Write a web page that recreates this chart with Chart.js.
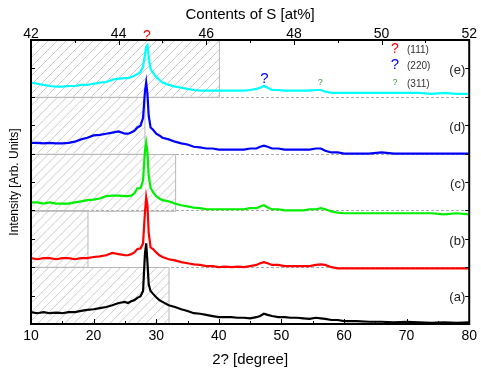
<!DOCTYPE html>
<html>
<head>
<meta charset="utf-8">
<script src="https://cdn.jsdelivr.net/npm/chart.js@4.4.0/dist/chart.umd.min.js"></script>
<style>
html, body { margin: 0; padding: 0; background: #fff; }
</style>
</head>
<body>
<canvas id="xrdChart" width="481" height="369"></canvas>
<script>
// 2-theta positions (degree)
const twoTheta = [10, 11, 12, 13, 14, 15, 16, 17, 18, 19, 20, 21, 22, 23, 24, 25, 25.5, 26, 26.5, 27,
  27.5, 27.9, 28.2, 28.4, 28.6, 28.8, 29.1, 29.5, 30, 30.5, 31, 32, 33, 34, 35, 36, 37, 38, 39, 40,
  41, 42, 43, 44, 45, 46, 46.6, 47.2, 47.8, 48.5, 49.5, 50.5, 51.5, 52.5, 53.5, 54.5, 55.5, 56.3, 57, 58,
  59, 60, 62, 64, 66, 68, 70, 72, 74, 76, 78, 80];

// intensities (arb. units, each pattern above its own baseline)
const sampleA = [21, 19, 21, 19, 20, 19, 21, 21, 23, 25, 26, 28, 30, 33, 37, 39, 37, 40, 42, 46,
  49, 58, 123, 142, 109, 70, 58, 53, 47, 42, 39, 33, 30, 26, 23, 19, 18, 16, 14, 12,
  12, 12, 11, 11, 10, 12, 14, 18, 16, 14, 12, 12, 11, 11, 10, 9, 11, 10, 9, 7,
  7, 5, 5, 4, 4, 3, 4, 3, 2, 3, 2, 3];
const sampleB = [16, 14, 16, 16, 14, 16, 16, 14, 16, 16, 18, 19, 21, 25, 23, 21, 21, 23, 26, 32,
  33, 42, 96, 123, 109, 61, 35, 32, 26, 21, 18, 14, 12, 9, 7, 5, 4, 2, 2, 0,
  1, 0, 1, 0, 2, 4, 7, 9, 7, 4, 4, 2, 2, 2, 2, 2, 4, 5, 4, 0,
  -2, -2, -2, -2, -2, -2, -2, -2, -2, -2, -2, -2];
const sampleC = [14, 14, 12, 14, 12, 12, 12, 14, 16, 18, 19, 21, 25, 26, 26, 25, 25, 26, 30, 39,
  39, 53, 105, 119, 102, 61, 40, 32, 25, 21, 18, 16, 12, 9, 7, 5, 4, 2, 2, 2,
  2, 2, 2, 2, 4, 4, 7, 9, 5, 2, 2, 0, 0, 0, 0, 2, 2, 4, 2, -2,
  -4, -5, -5, -5, -5, -5, -5, -5, -5, -7, -5, -7];
const sampleD = [19, 19, 18, 19, 18, 18, 19, 21, 25, 28, 32, 33, 35, 37, 39, 35, 35, 37, 40, 46,
  49, 63, 109, 125, 105, 67, 46, 42, 35, 32, 28, 25, 21, 18, 16, 12, 11, 9, 9, 7,
  7, 7, 7, 7, 9, 9, 12, 14, 12, 9, 9, 7, 7, 7, 7, 7, 9, 9, 5, 2,
  2, 0, 0, 0, 2, 0, 0, 0, 0, 0, 0, 0];
const sampleE = [25, 23, 21, 19, 18, 18, 19, 19, 21, 21, 23, 25, 26, 30, 32, 33, 33, 35, 37, 40,
  44, 53, 74, 88, 91, 70, 49, 42, 35, 30, 25, 21, 18, 16, 14, 12, 11, 11, 11, 11,
  11, 11, 11, 11, 12, 14, 16, 19, 16, 12, 12, 11, 11, 11, 11, 11, 12, 12, 9, 7,
  7, 7, 7, 7, 7, 7, 7, 7, 5, 7, 5, 5];

const sampleNames = ['(a)', '(b)', '(c)', '(d)', '(e)'];
const sampleOffsets = [0, 100, 200, 300, 400];
const sulfurContent = [45.15, 43.3, 45.3, 44.6, 46.3];   // at%, top axis
const sampleColors = ['#000000', '#ff0000', '#00ee00', '#0000ff', '#00ffff'];

const peakPositions = [28.5, 47.3, 56.2];
const peakPlanes = ['(111)', '(220)', '(311)'];
const peakColors = ['#ff0000', '#0000ff', '#339933'];

const allSamples = [sampleA, sampleB, sampleC, sampleD, sampleE];

const datasets = allSamples.map((vals, i) => ({
  label: sampleNames[i],
  data: twoTheta.map((t, k) => ({ x: t, y: vals[k] + sampleOffsets[i] })),
  borderColor: sampleColors[i],
  borderWidth: 2.2,
  pointRadius: 0,
  tension: 0,
  xAxisID: 'x',
  yAxisID: 'y'
}));

const FONT = 'Arial, "Liberation Sans", sans-serif';

const decorations = {
  id: 'decorations',
  beforeDatasetsDraw(chart) {
    const { ctx, chartArea: a, scales: { x2, y } } = chart;
    ctx.save();
    // dotted band separators
    ctx.strokeStyle = '#aaaaaa';
    ctx.lineWidth = 1;
    ctx.setLineDash([3, 2]);
    sampleOffsets.slice(1).forEach(o => {
      const py = Math.round(y.getPixelForValue(o)) + 0.5;
      ctx.beginPath();
      ctx.moveTo(a.left, py);
      ctx.lineTo(a.right, py);
      ctx.stroke();
    });
    ctx.setLineDash([]);
    // hatched composition boxes
    sulfurContent.forEach((s, i) => {
      const l = a.left;
      const r = x2.getPixelForValue(s);
      const b = y.getPixelForValue(sampleOffsets[i]);
      const t = y.getPixelForValue(sampleOffsets[i] + 100);
      ctx.save();
      ctx.beginPath();
      ctx.rect(l, t, r - l, b - t);
      ctx.clip();
      ctx.strokeStyle = '#bdbdbd';
      ctx.lineWidth = 0.8;
      ctx.beginPath();
      const h = b - t;
      for (let k = l - h; k < r; k += 9) {
        ctx.moveTo(k, b);
        ctx.lineTo(k + h, t);
      }
      ctx.stroke();
      ctx.restore();
      ctx.strokeStyle = '#b8b8b8';
      ctx.lineWidth = 1;
      ctx.strokeRect(l, Math.round(t) + 0.5, r - l, b - t);
    });
    ctx.restore();
  },
  afterDatasetsDraw(chart) {
    const { ctx, chartArea: a, scales: { x, x2, y } } = chart;
    ctx.save();
    // frame
    ctx.strokeStyle = '#000';
    ctx.lineWidth = 2;
    ctx.strokeRect(a.left, a.top, a.right - a.left, a.bottom - a.top);
    // inward ticks
    ctx.lineWidth = 1;
    ctx.beginPath();
    for (let v = 10; v <= 80; v += 5) {
      const px = Math.round(x.getPixelForValue(v)) + 0.5;
      const len = v % 10 === 0 ? 5 : 3;
      ctx.moveTo(px, a.bottom);
      ctx.lineTo(px, a.bottom - len);
    }
    for (let v = 42; v <= 52; v += 1) {
      const px = Math.round(x2.getPixelForValue(v)) + 0.5;
      const len = v % 2 === 0 ? 5 : 3;
      ctx.moveTo(px, a.top);
      ctx.lineTo(px, a.top + len);
    }
    for (let v = 0; v <= 500; v += 50) {
      const py = Math.round(y.getPixelForValue(v)) + 0.5;
      ctx.moveTo(a.left, py);
      ctx.lineTo(a.left + 4, py);
      ctx.moveTo(a.right, py);
      ctx.lineTo(a.right - 4, py);
    }
    ctx.stroke();

    // sample names
    ctx.fillStyle = '#222';
    ctx.font = '13px ' + FONT;
    ctx.textAlign = 'right';
    ctx.textBaseline = 'middle';
    sampleOffsets.forEach((o, i) => {
      ctx.fillText(sampleNames[i], a.right - 4, y.getPixelForValue(o + 46));
    });

    // peak markers above the top pattern
    const gaps = [9, 7, 7];
    const sizes = [14, 15, 9];
    ctx.textAlign = 'center';
    peakPositions.forEach((p, i) => {
      let k = 0;
      while (k < twoTheta.length - 1 && twoTheta[k] < p) k++;
      const top = Math.max(sampleE[k], sampleE[Math.max(0, k - 1)]);
      ctx.fillStyle = peakColors[i];
      ctx.font = sizes[i] + 'px ' + FONT;
      ctx.fillText('?', x.getPixelForValue(p), y.getPixelForValue(top + sampleOffsets[4]) - gaps[i]);
    });

    // plane legend
    const rows = [49, 65, 83];
    peakPlanes.forEach((pl, i) => {
      ctx.fillStyle = peakColors[i];
      ctx.font = sizes[i] + 'px ' + FONT;
      ctx.textAlign = 'center';
      ctx.fillText('?', a.left + 364, rows[i]);
      ctx.fillStyle = '#333';
      ctx.font = '10px ' + FONT;
      ctx.textAlign = 'left';
      ctx.fillText(pl, a.left + 376, rows[i] + 1);
    });
    ctx.restore();
  }
};

new Chart(document.getElementById('xrdChart').getContext('2d'), {
  type: 'line',
  data: { datasets },
  options: {
    responsive: false,
    animation: false,
    layout: { padding: { right: 9 } },
    plugins: { legend: { display: false }, tooltip: { enabled: false } },
    scales: {
      x: {
        type: 'linear',
        position: 'bottom',
        min: 10,
        max: 80,
        grid: { display: false, drawTicks: false },
        border: { display: false },
        ticks: { stepSize: 10, color: '#000', padding: 4, maxRotation: 0, font: { size: 14, family: FONT } },
        title: { display: true, text: '2? [degree]', color: '#000', padding: 0,
          font: { size: 15, family: FONT, lineHeight: '18px' } },
        afterFit(s) { s.height = 45; }
      },
      x2: {
        type: 'linear',
        position: 'top',
        min: 42,
        max: 52,
        grid: { display: false, drawTicks: false },
        border: { display: false },
        ticks: { stepSize: 2, color: '#000', padding: -3, maxRotation: 0, font: { size: 14, family: FONT } },
        title: { display: true, text: 'Contents of S [at%]', color: '#000', padding: 0,
          font: { size: 15, family: FONT, lineHeight: '30px' } },
        afterFit(s) { s.height = 40; }
      },
      y: {
        type: 'linear',
        position: 'left',
        min: 0,
        max: 500,
        grid: { display: false, drawTicks: false },
        border: { display: false },
        ticks: { display: false },
        title: { display: true, text: 'Intensity [Arb. Units]', color: '#000', padding: 0,
          font: { size: 12, family: FONT, lineHeight: '30px' } },
        afterFit(s) { s.width = 31; }
      }
    }
  },
  plugins: [decorations]
});
</script>
</body>
</html>
